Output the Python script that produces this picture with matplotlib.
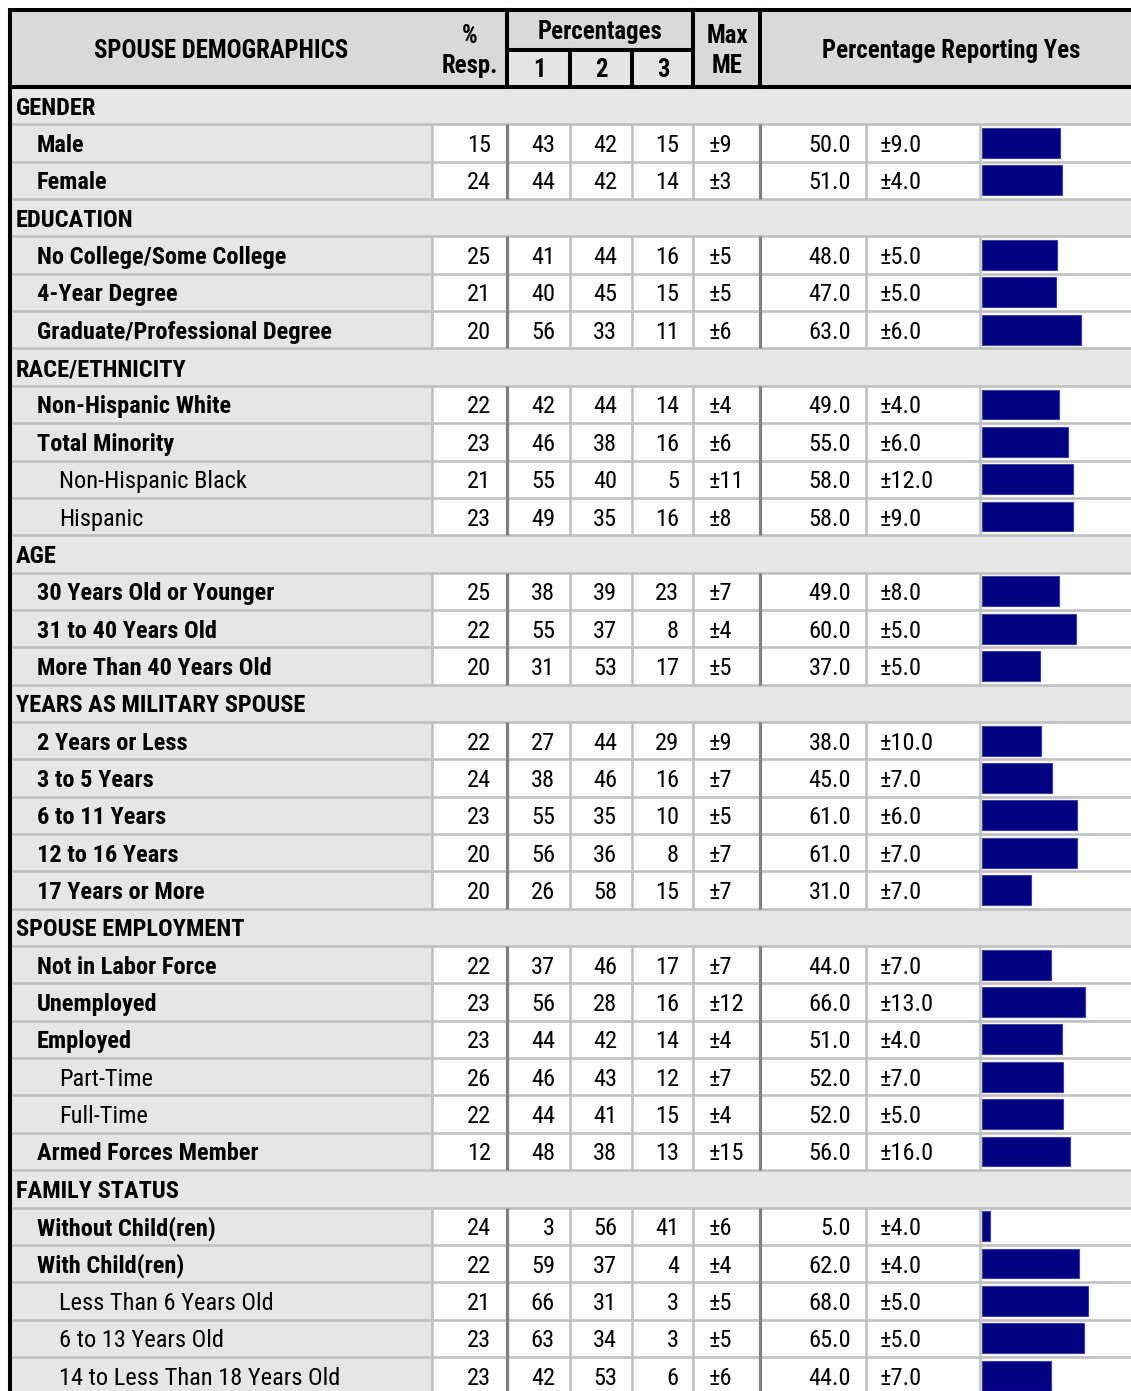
import matplotlib
matplotlib.use("Agg")
import matplotlib.pyplot as plt
from matplotlib.patches import Rectangle
from matplotlib import font_manager

# ---- data -------------------------------------------------------------
labels = [
    "GENDER", "Male", "Female",
    "EDUCATION", "No College/Some College", "4-Year Degree", "Graduate/Professional Degree",
    "RACE/ETHNICITY", "Non-Hispanic White", "Total Minority", "Non-Hispanic Black", "Hispanic",
    "AGE", "30 Years Old or Younger", "31 to 40 Years Old", "More Than 40 Years Old",
    "YEARS AS MILITARY SPOUSE", "2 Years or Less", "3 to 5 Years", "6 to 11 Years",
    "12 to 16 Years", "17 Years or More",
    "SPOUSE EMPLOYMENT", "Not in Labor Force", "Unemployed", "Employed", "Part-Time",
    "Full-Time", "Armed Forces Member",
    "FAMILY STATUS", "Without Child(ren)", "With Child(ren)", "Less Than 6 Years Old",
    "6 to 13 Years Old", "14 to Less Than 18 Years Old",
]
# 0 = section heading, 1 = bold item, 2 = sub item
levels = [0, 1, 1,
          0, 1, 1, 1,
          0, 1, 1, 2, 2,
          0, 1, 1, 1,
          0, 1, 1, 1, 1, 1,
          0, 1, 1, 1, 2, 2, 1,
          0, 1, 1, 2, 2, 2]
N = None
resp = [N, 15, 24, N, 25, 21, 20, N, 22, 23, 21, 23, N, 25, 22, 20,
        N, 22, 24, 23, 20, 20, N, 22, 23, 23, 26, 22, 12, N, 24, 22, 21, 23, 23]
pct1 = [N, 43, 44, N, 41, 40, 56, N, 42, 46, 55, 49, N, 38, 55, 31,
        N, 27, 38, 55, 56, 26, N, 37, 56, 44, 46, 44, 48, N, 3, 59, 66, 63, 42]
pct2 = [N, 42, 42, N, 44, 45, 33, N, 44, 38, 40, 35, N, 39, 37, 53,
        N, 44, 46, 35, 36, 58, N, 46, 28, 42, 43, 41, 38, N, 56, 37, 31, 34, 53]
pct3 = [N, 15, 14, N, 16, 15, 11, N, 14, 16, 5, 16, N, 23, 8, 17,
        N, 29, 16, 10, 8, 15, N, 17, 16, 14, 12, 15, 13, N, 41, 4, 3, 3, 6]
max_me = [N, 9, 3, N, 5, 5, 6, N, 4, 6, 11, 8, N, 7, 4, 5,
          N, 9, 7, 5, 7, 7, N, 7, 12, 4, 7, 4, 15, N, 6, 4, 5, 5, 6]
yes_pct = [N, 50.0, 51.0, N, 48.0, 47.0, 63.0, N, 49.0, 55.0, 58.0, 58.0, N, 49.0, 60.0, 37.0,
           N, 38.0, 45.0, 61.0, 61.0, 31.0, N, 44.0, 66.0, 51.0, 52.0, 52.0, 56.0,
           N, 5.0, 62.0, 68.0, 65.0, 44.0]
yes_me = [N, 9.0, 4.0, N, 5.0, 5.0, 6.0, N, 4.0, 6.0, 12.0, 9.0, N, 8.0, 5.0, 5.0,
          N, 10.0, 7.0, 6.0, 7.0, 7.0, N, 7.0, 13.0, 4.0, 7.0, 5.0, 16.0,
          N, 4.0, 4.0, 5.0, 5.0, 7.0]

# ---- layout (pixels) --------------------------------------------------
W, H = 1131, 1391
LEFT = 10
HDR_TOP, HDR_BOT, SUB_Y = 10, 87, 50
ROW_TOP, ROW_H = 87, 37.35
COLS = [432, 507, 570, 632, 693, 760, 866, 980]   # vertical cell edges
BAR_X0, BAR_W = 982, 156.5                          # 0..100 % span

# narrow face if one is around, else DejaVu
fams = {f.name for f in font_manager.fontManager.ttflist}
FONT, FS, HFS = "DejaVu Sans", 14, 14
for name, size, hsize in [("Liberation Sans Narrow", 17.5, 17.5), ("Arial Narrow", 17.5, 17.5),
                          ("Roboto Condensed", 17.6, 17.8), ("Open Sans Condensed", 16.0, 16.0)]:
    if name in fams:
        FONT, FS, HFS = name, size, hsize
        break
plt.rcParams["font.family"] = [FONT, "DejaVu Sans"]

HDR_BG = "#d9d9d9"
BODY_BG = "#e6e6e6"
LINE_LT = "#c0c0c0"
LINE_DK = "#808080"
DY = 2.5   # text baseline nudge

fig = plt.figure(figsize=(W / 100, H / 100), dpi=100)
ax = fig.add_axes([0, 0, 1, 1])
ax.set_xlim(0, W)
ax.set_ylim(H, 0)
ax.axis("off")

n = len(labels)
body_bot = ROW_TOP + n * ROW_H

# backgrounds
ax.add_patch(Rectangle((LEFT, HDR_TOP), W - LEFT, HDR_BOT - HDR_TOP, fc=HDR_BG, ec="none"))
ax.add_patch(Rectangle((COLS[1], SUB_Y), COLS[4] - COLS[1], HDR_BOT - SUB_Y, fc="#e4e4e4", ec="none"))
ax.add_patch(Rectangle((LEFT, ROW_TOP), W - LEFT, body_bot - ROW_TOP, fc=BODY_BG, ec="none"))

for i in range(n):
    top = ROW_TOP + i * ROW_H
    yc = top + ROW_H / 2 + DY
    if levels[i] == 0:
        ax.text(16, yc, labels[i], fontsize=FS, fontweight="bold", va="center", ha="left")
        continue
    ax.add_patch(Rectangle((COLS[0], top), W - COLS[0], ROW_H, fc="white", ec="none"))
    xind = 37 if levels[i] == 1 else 59
    ax.text(xind, yc, labels[i], fontsize=FS, va="center", ha="left",
            fontweight="bold" if levels[i] == 1 else "normal")
    for v, xr in zip([resp[i], pct1[i], pct2[i], pct3[i]], [491, 555, 617, 679]):
        ax.text(xr, yc, f"{v}", fontsize=FS, va="center", ha="right")
    ax.text(709, yc, f"±{max_me[i]}", fontsize=FS, va="center", ha="left")
    ax.text(851, yc, f"{yes_pct[i]:.1f}", fontsize=FS, va="center", ha="right")
    ax.text(880, yc, f"±{yes_me[i]:.1f}", fontsize=FS, va="center", ha="left")
    # vertical cell separators
    for xc in COLS:
        dark = xc in (507, 760)
        ax.plot([xc, xc], [top, top + ROW_H], color=LINE_DK if dark else LINE_LT,
                lw=2.3 if dark else 1.9, solid_capstyle="butt", zorder=3)

# horizontal row lines
for i in range(1, n + 1):
    y = ROW_TOP + i * ROW_H
    ax.plot([LEFT, W], [y, y], color=LINE_LT, lw=1.9, zorder=2)

# header borders
lw_k = 2.9
ax.plot([LEFT, W], [HDR_TOP, HDR_TOP], color="black", lw=lw_k, zorder=5)
ax.plot([LEFT, W], [HDR_BOT, HDR_BOT], color="black", lw=lw_k, zorder=5)
ax.plot([LEFT, LEFT], [HDR_TOP - 2, H + 5], color="black", lw=lw_k, zorder=5, solid_capstyle="butt")
for xc in (507, 693, 760):
    ax.plot([xc, xc], [HDR_TOP, HDR_BOT], color="black", lw=lw_k, zorder=5)
for xc in (570, 632):
    ax.plot([xc, xc], [SUB_Y, HDR_BOT], color="black", lw=lw_k, zorder=5)
ax.plot([507, 693], [SUB_Y, SUB_Y], color="black", lw=lw_k, zorder=5)

hkw = dict(fontsize=HFS, fontweight="bold", ha="center", va="center")
ax.text(221, 51, "SPOUSE DEMOGRAPHICS", **hkw)
ax.text(470, 36, "%", **hkw)
ax.text(470, 66, "Resp.", **hkw)
ax.text(600, 32, "Percentages", **hkw)
for t, xc in zip(["1", "2", "3"], [539, 601, 663]):
    ax.text(xc, 70, t, **hkw)
ax.text(727, 36, "Max", **hkw)
ax.text(727, 66, "ME", **hkw)
ax.text(951, 51, "Percentage Reporting Yes", **hkw)

# ---- bar column --------------------------------------------------------
bax = fig.add_axes([BAR_X0 / W, 1 - body_bot / H, BAR_W / W, (body_bot - ROW_TOP) / H])
bax.set_xlim(0, 100)
bax.set_ylim(n, 0)
bax.axis("off")
rows = [i for i in range(n) if levels[i] != 0]
bax.barh([i + 0.5 for i in rows], [yes_pct[i] for i in rows], height=0.8, left=0,
         color="#000080", edgecolor="#3c3caa", linewidth=0.8, zorder=4)

fig.savefig("out.png", dpi=100)
